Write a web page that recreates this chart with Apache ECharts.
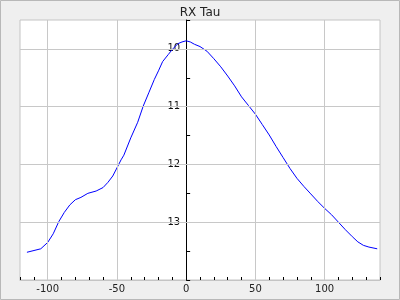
<!DOCTYPE html>
<html>
<head>
<meta charset="utf-8">
<script src="https://cdn.jsdelivr.net/npm/echarts@6/dist/echarts.min.js"></script>
<style>
html,body{margin:0;padding:0;background:#efefef;}
#chart{width:400px;height:300px;}
</style>
</head>
<body>
<div id="chart"></div>
<script>
const title = "RX Tau";
const phase = [-115,-105,-100,-96,-92,-88,-84,-80,-76,-71,-65,-60,-56.5,-53,-50,-47,-45,-40,-35,-31,-27,-23,-20,-17,-13,-10,-6,-3,0,3,6,10,15,20,25,30,35,40,45,50,55,60,65,70,75,80,85,90,95,100,105,110,115,120,124,128,132,138];
const mags = [13.52,13.46,13.35,13.20,12.99,12.83,12.70,12.61,12.57,12.50,12.46,12.40,12.31,12.20,12.06,11.92,11.84,11.54,11.27,10.99,10.76,10.53,10.38,10.22,10.10,10.01,9.91,9.88,9.86,9.88,9.92,9.96,10.04,10.17,10.31,10.47,10.64,10.83,10.98,11.13,11.31,11.49,11.69,11.88,12.07,12.24,12.38,12.51,12.64,12.76,12.87,13.00,13.13,13.25,13.34,13.40,13.43,13.46];
const xGridValues = [-100,-50,50,100];
const yGridValues = [10,11,12,13];
const xLabelValues = [-100,-50,0,50,100];
const yLabelValues = [10,11,12,13];

const points = phase.map((p,i)=>[p,mags[i]]);
const chart = echarts.init(document.getElementById('chart'), null, {renderer:'canvas'});
const font = 'DejaVu Sans';
const gridLineStyle = {color:'#c8c8c8', width:1, type:'solid'};
const gridLeft = 20;
chart.setOption({
  backgroundColor:'#efefef',
  animation:false,
  title:{text:title, left:'center', top:2, textStyle:{fontFamily:font, fontSize:12, fontWeight:'normal', color:'#222'}},
  graphic:[{type:'rect', shape:{x:0.5,y:0.5,width:399,height:299}, style:{fill:null, stroke:'#b8b8b8', lineWidth:1}, silent:true, z:-1}],
  grid:{left:gridLeft,right:20,top:20,bottom:20,show:true,backgroundColor:'#ffffff',borderColor:'#c4c4c4',borderWidth:1},
  xAxis:{type:'value', min:-120, max:140, interval:10,
    axisLine:{show:true, onZero:false, lineStyle:{color:'#c4c4c4'}},
    axisTick:{show:true, inside:true, length:3, lineStyle:{color:'#000'}},
    splitLine:{show:false},
    axisLabel:{margin:4, fontFamily:font, fontSize:10, color:'#222', showMinLabel:true, showMaxLabel:true,
      formatter:function(v){return xLabelValues.indexOf(v)>=0 ? String(v) : '';}}
  },
  yAxis:{type:'value', inverse:true, min:9.5, max:14, interval:0.5,
    axisLine:{show:true, onZero:true, lineStyle:{color:'#000'}},
    axisTick:{show:true, inside:true, length:4, lineStyle:{color:'#000'}},
    splitLine:{show:false},
    axisLabel:{margin:8, fontFamily:font, fontSize:10, color:'#111',
      formatter:function(v){return yLabelValues.indexOf(v)>=0 ? String(v) : '';}}
  },
  series:[
    {type:'line', data:[], z:1, silent:true,
      markLine:{silent:true, symbol:['none','none'], label:{show:false}, lineStyle:gridLineStyle, animation:false,
        data: xGridValues.map(v=>({xAxis:v})).concat(yGridValues.map(v=>({yAxis:v})))}},
    {type:'line', data:points, z:3, showSymbol:false, symbol:'none', smooth:false,
      lineStyle:{color:'#0000ff', width:1}}
  ]
});
// place y labels beside the axis line at x = 0
const zeroX = chart.convertToPixel({xAxisIndex:0}, 0);
chart.setOption({yAxis:{axisLabel:{margin: 8 - (zeroX - gridLeft)}}});
</script>
</body>
</html>
